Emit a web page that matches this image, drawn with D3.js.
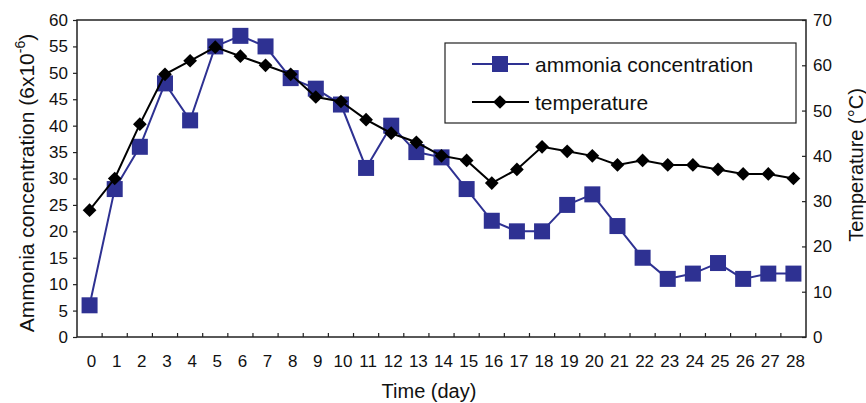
<!DOCTYPE html>
<html>
<head>
<meta charset="utf-8">
<script src="https://cdn.jsdelivr.net/npm/d3@7"></script>
<style>
  body { margin: 0; background: #fff; }
  svg text { font-family: "Liberation Sans", Arial, sans-serif; fill: #111; }
</style>
</head>
<body>
<main></main>
<script>
const days = d3.range(0, 29);
const ammonia = [6, 28, 36, 48, 41, 55, 57, 55, 49, 47, 44, 32, 40, 35, 34, 28, 22, 20, 20, 25, 27, 21, 15, 11, 12, 14, 11, 12, 12];
const temperature = [28, 35, 47, 58, 61, 64, 62, 60, 58, 53, 52, 48, 45, 43, 40, 39, 34, 37, 42, 41, 40, 38, 39, 38, 38, 37, 36, 36, 35];
const leftTicks = d3.range(0, 61, 5);
const rightTicks = d3.range(0, 71, 10);
const legendNames = ['ammonia concentration', 'temperature'];

const W = 866, H = 403;
const pLeft = 77, pRight = 806, pTop = 20, pBottom = 337;
const blue = '#2e3192';
const font = '"Liberation Sans", Arial, sans-serif';

const svg = d3.select('main')
    .append('svg')
    .attr('width', W)
    .attr('height', H);

const xScale = d3.scaleBand()
    .domain(days)
    .range([pLeft, pRight])
    .padding(0);

const yLeft = d3.scaleLinear().domain([0, 60]).range([pBottom, pTop]);
const yRight = d3.scaleLinear().domain([0, 70]).range([pBottom, pTop]);

// frame
svg.append('rect')
    .attr('x', pLeft).attr('y', pTop)
    .attr('width', pRight - pLeft).attr('height', pBottom - pTop)
    .attr('fill', 'none').attr('stroke', '#222').attr('stroke-width', 1.5);

// x axis: ticks at band boundaries pointing up
const xAxis = svg.append('g').attr('transform', `translate(0, ${pBottom})`);
xAxis.selectAll('line.tick')
    .data(days.slice(1))
    .enter()
    .append('line')
    .attr('x1', (d) => xScale(d)).attr('x2', (d) => xScale(d))
    .attr('y1', 0).attr('y2', -4)
    .attr('stroke', '#222').attr('stroke-width', 1.2);
xAxis.selectAll('text')
    .data(days)
    .enter()
    .append('text')
    .attr('x', (d) => xScale(d) + xScale.bandwidth() / 2 + 2)
    .attr('y', 30)
    .attr('text-anchor', 'middle')
    .attr('font-size', 17)
    .text((d) => d);

svg.append('g')
    .attr('transform', `translate(${pLeft}, 0)`)
    .call(d3.axisLeft(yLeft).tickValues(leftTicks).tickSize(4).tickPadding(5))
    .call((g) => g.select('.domain').remove())
    .call((g) => g.selectAll('line').attr('stroke', '#222').attr('stroke-width', 1.2))
    .call((g) => g.selectAll('text').attr('font-size', 17).attr('fill', '#111')
        .attr('font-family', font));

svg.append('g')
    .attr('transform', `translate(${pRight}, 0)`)
    .call(d3.axisRight(yRight).tickValues(rightTicks).tickSize(-4).tickPadding(7))
    .call((g) => g.select('.domain').remove())
    .call((g) => g.selectAll('line').attr('stroke', '#222').attr('stroke-width', 1.2))
    .call((g) => g.selectAll('text').attr('font-size', 17).attr('fill', '#111')
        .attr('font-family', font));

// axis titles
const lt = svg.append('text')
    .attr('transform', 'translate(34, 183) rotate(-90)')
    .attr('text-anchor', 'middle')
    .attr('font-size', 21);
lt.append('tspan').text('Ammonia concentration (6x10');
lt.append('tspan').attr('dy', -9).attr('font-size', 14).text('-6');
lt.append('tspan').attr('dy', 9).text(')');

svg.append('text')
    .attr('transform', 'translate(863, 165) rotate(-90)')
    .attr('text-anchor', 'middle')
    .attr('font-size', 20)
    .text('Temperature (°C)');

svg.append('text')
    .attr('x', 429)
    .attr('y', 398)
    .attr('text-anchor', 'middle')
    .attr('font-size', 20)
    .text('Time (day)');

const xc = (d, i) => xScale(days[i]) + xScale.bandwidth() / 2;

const lineA = d3.line().x(xc).y((d) => yLeft(d));
const lineT = d3.line().x(xc).y((d) => yRight(d));

svg.append('path')
    .datum(ammonia)
    .attr('d', lineA)
    .attr('fill', 'none').attr('stroke', blue).attr('stroke-width', 2);

svg.selectAll('rect.amm')
    .data(ammonia)
    .enter()
    .append('rect')
    .attr('class', 'amm')
    .attr('x', (d, i) => xc(d, i) - 8)
    .attr('y', (d) => yLeft(d) - 8)
    .attr('width', 16).attr('height', 16)
    .attr('fill', blue);

svg.append('path')
    .datum(temperature)
    .attr('d', lineT)
    .attr('fill', 'none').attr('stroke', '#000').attr('stroke-width', 2);

const diamond = d3.symbol().type(d3.symbolDiamond2).size(120);
svg.selectAll('path.temp')
    .data(temperature)
    .enter()
    .append('path')
    .attr('class', 'temp')
    .attr('d', diamond)
    .attr('transform', (d, i) => `translate(${xc(d, i)}, ${yRight(d)})`)
    .attr('fill', '#000');

// legend
const lg = svg.append('g');
lg.append('rect')
    .attr('x', 445).attr('y', 43)
    .attr('width', 351).attr('height', 80)
    .attr('fill', '#fff').attr('stroke', '#222').attr('stroke-width', 1.2);

const legendY = [64, 102];
lg.selectAll('line')
    .data(legendNames)
    .enter()
    .append('line')
    .attr('x1', 472).attr('x2', 529)
    .attr('y1', (d, i) => legendY[i]).attr('y2', (d, i) => legendY[i])
    .attr('stroke', (d, i) => (i === 0 ? blue : '#000'))
    .attr('stroke-width', 2);
lg.append('rect')
    .attr('x', 492).attr('y', legendY[0] - 8)
    .attr('width', 16).attr('height', 16)
    .attr('fill', blue);
lg.append('path')
    .attr('d', diamond)
    .attr('transform', `translate(500, ${legendY[1]})`)
    .attr('fill', '#000');
lg.selectAll('text')
    .data(legendNames)
    .enter()
    .append('text')
    .attr('x', 535)
    .attr('y', (d, i) => legendY[i] + 8)
    .attr('font-size', 21)
    .text((d) => d);
</script>
</body>
</html>
